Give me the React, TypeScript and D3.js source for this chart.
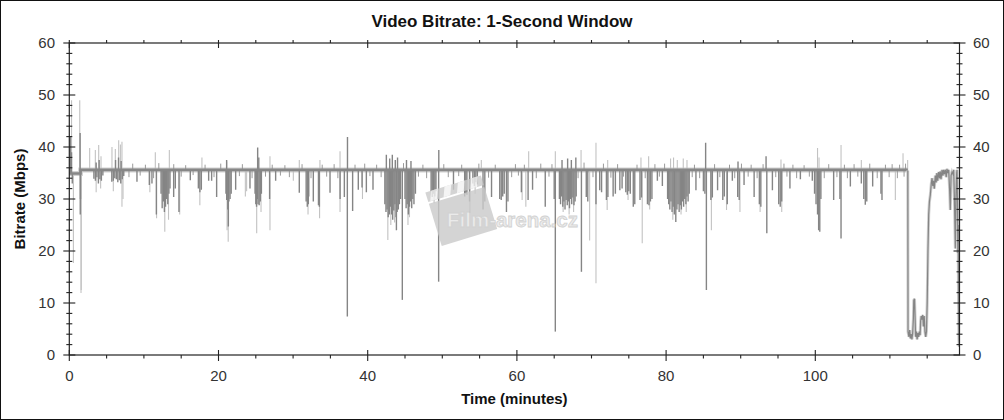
import React, { useEffect, useRef } from 'react';
import * as d3 from 'd3';

const WIDTH = 1004;
const HEIGHT = 420;
const FONT = '"Liberation Sans", Arial, sans-serif';

const xTicks = [0, 20, 40, 60, 80, 100];
const yTicks = [0, 10, 20, 30, 40, 50, 60];
const xMax = 119.33;

// level of the trace that the spikes hang off (minutes, Mbps)
const levelTime = [0, 1.5, 1.52, 112.4];
const levelValue = [34.9, 34.9, 35.6, 35.6];

// [minute, Mbps] — dense dark spikes
const darkSpikes: [number, number][] = [
  [0.15, 42], [0.3, 39], [0.4, 33], [1.45, 42.7], [1.47, 27], [1.5, 30],
  [3.3, 33.9], [3.5, 33.5], [3.6, 37], [3.7, 34.2], [3.9, 33.0], [4.0, 37.5], [4.1, 33.8], [4.3, 33.5], [4.5, 34.5],
  [5.7, 33.3], [5.9, 33.5], [6.1, 34], [6.2, 37.5], [6.3, 33.8], [6.5, 33.2], [6.6, 38], [6.7, 33.6], [6.9, 33.0], [6.95, 37.3], [7.1, 33.8], [7.3, 34.4],
  [9.07, 33.3], [10.73, 32.7], [11.08, 33], [11.67, 27],
  [12.3, 31], [12.45, 28.2], [12.6, 29.5], [12.75, 27.5], [12.9, 28.5], [13.05, 30], [13.2, 29], [13.35, 31], [13.5, 32],
  [13.99, 30.4], [14.21, 32], [14.7, 27.5], [16.22, 33.6],
  [17.3, 32], [17.5, 31.3], [17.7, 31.8], [18.68, 33.5],
  [19.08, 33.5], [19.75, 30.4],
  [21.0, 31], [21.09, 37.5], [21.1, 29.8], [21.25, 28], [21.32, 24.7], [21.4, 29.5], [21.55, 30], [21.7, 31],
  [22.3, 31.8], [24.22, 32],
  [24.9, 31], [25.0, 29], [25.1, 28.5], [25.2, 30], [25.25, 39.9], [25.3, 29], [25.4, 38], [25.45, 28.8], [25.6, 29.5], [25.75, 31],
  [26.85, 30], [27.66, 33.5], [30.83, 31.2],
  [31.75, 29.5], [31.9, 28.5], [32.04, 29], [32.1, 30.5], [32.71, 29.5],
  [33.4, 28.8], [33.52, 28.5], [34.95, 31.2], [36.3, 30], [36.87, 30.4],
  [37.27, 7.4], [37.29, 41.9], [37.98, 27.7], [38.74, 31.8],
  [39.24, 32.2], [39.82, 31.3], [40.71, 31.8],
  [42.3, 29], [42.45, 27.5], [42.5, 38.5], [42.6, 28], [42.75, 26.5], [42.9, 27], [42.95, 37.8], [43.05, 28.5], [43.2, 27], [43.3, 38.5],
  [43.35, 26], [43.5, 27.8], [43.65, 29], [43.7, 37.5], [43.8, 26.5], [43.85, 24], [43.95, 27.5], [44.0, 38], [44.1, 28], [44.25, 29], [44.4, 30],
  [44.64, 10.6],
  [45.0, 30], [45.15, 28.2], [45.2, 37.5], [45.3, 29], [45.45, 27], [45.6, 28.5], [45.75, 29.5], [45.8, 37.3], [45.9, 28.2], [46.05, 30], [46.2, 29], [46.4, 31],
  [48.5, 31.5], [48.65, 30.4], [48.8, 31], [49.0, 30.5], [49.15, 31.5],
  [49.51, 14.1], [49.53, 39.4],
  [51.5, 31.8], [53.0, 30.5], [53.15, 31], [53.3, 30.8], [53.65, 29.5],
  [54.1, 33], [54.3, 32.5], [54.5, 33.2], [54.7, 32.8],
  [55.46, 28], [55.7, 29.5], [56.6, 30.4],
  [57.7, 30], [57.9, 29.8], [58.1, 30.5], [58.3, 31],
  [58.6, 27.5], [58.8, 29.5], [60.6, 31.3], [61.5, 29.8], [62.1, 31.8], [63.8, 28.5],
  [65.0, 30], [65.15, 4.5],
  [65.7, 30], [65.85, 29], [66.0, 30.5], [66.05, 37.5], [66.15, 28.5], [66.3, 29.5], [66.45, 28], [66.6, 29.8], [66.75, 28.8], [66.8, 37.8],
  [66.9, 29.5], [67.05, 28.2], [67.2, 30], [67.3, 37.5], [67.35, 29], [67.5, 30.3], [67.65, 28.8], [67.8, 29.5], [67.9, 38], [67.95, 30.5],
  [68.65, 16], [69.3, 30.4], [69.5, 29.5], [70.6, 29],
  [71.1, 31.7], [71.35, 31.3], [72.0, 29.8], [72.2, 30.4], [72.9, 30.5], [73.2, 31], [73.8, 31.7], [74.1, 32],
  [74.6, 31.3], [74.8, 30.8], [75.0, 31.5], [75.2, 31], [75.6, 28.5], [75.8, 29],
  [76.5, 29.8], [76.7, 30.3], [77.5, 29], [77.7, 28.8], [77.9, 29.5], [78.1, 30],
  [78.83, 33.5], [79.5, 32.5],
  [80.2, 30], [80.35, 29], [80.5, 28], [80.65, 29.5], [80.8, 27.5], [80.95, 28.5], [81.1, 27], [81.3, 25.6], [81.45, 28], [81.6, 29],
  [81.75, 27.5], [81.9, 28.8], [82.05, 28], [82.2, 29.5], [82.35, 28.5], [82.5, 30], [82.65, 29], [82.8, 30.5], [82.95, 29.5], [83.1, 31],
  [84.0, 31.7], [85.0, 31.5], [85.2, 31], [85.3, 40.8], [85.4, 12.5],
  [86.0, 29.8], [86.2, 30.3], [86.9, 31.7], [87.6, 29.8], [87.8, 30.5], [88.2, 29], [88.88, 33.5],
  [89.6, 30.4], [89.64, 37.2], [89.8, 29.8], [90.45, 32.7], [91.8, 30.4],
  [92.5, 29], [92.7, 28.5], [93.4, 38.2], [93.5, 23.4], [94.25, 31.7],
  [95.1, 29], [95.3, 28.5], [95.5, 29.5], [96.6, 32], [98.0, 33.8],
  [99.6, 33.5], [99.9, 31], [100.1, 29], [100.3, 27], [100.45, 24], [100.6, 23.7], [100.75, 30],
  [102.46, 29.8], [103.3, 30], [103.45, 22.4], [104.7, 32.4], [106.17, 33],
  [106.5, 30], [106.7, 28.9], [106.9, 29.5], [107.69, 32.4], [108.8, 31], [108.94, 29.8],
];

// [minute, Mbps] — faint single-second spikes
const lightSpikes: [number, number][] = [
  [0.3, 49], [0.55, 17.7], [1.4, 49], [1.57, 11.9], [1.6, 12.5],
  [2.73, 39.8], [3.49, 39.4], [3.94, 40.4], [4.25, 38.2], [3.6, 31.3], [4.2, 32],
  [5.72, 40.0], [5.9, 31.5], [6.17, 39.6], [6.62, 41.3], [6.85, 40.5], [7.06, 41.0], [7.06, 28.5], [7.2, 30],
  [10.8, 31.3], [11.53, 39.0], [11.7, 26.3], [12.8, 23.7], [13.3, 26], [13.41, 39.4], [14.8, 27], [17.5, 28.8], [17.78, 38],
  [21.15, 24], [21.3, 21.8], [21.1, 37.2], [23.6, 30.5], [23.77, 31.5], [25.12, 23.4], [25.7, 27.5], [26.9, 24], [26.9, 38.2],
  [30.03, 33.5], [30.83, 37.5], [32.0, 27], [33.55, 26.3], [33.6, 37.5], [36.29, 27.5], [36.29, 39.2],
  [39.3, 30], [42.7, 22.1], [43.1, 25], [43.6, 25.5], [45.4, 25], [45.6, 26.5], [48.9, 29.2], [53.7, 27.3], [54.4, 31], [55.23, 37.5],
  [60.7, 29.8], [61.2, 28.5], [61.58, 39.2], [65.15, 39.2], [66.2, 27.5], [67.0, 27], [67.6, 27.5], [68.6, 39.4], [69.75, 22],
  [70.6, 13.8], [70.6, 40.8], [72.1, 27.9], [72.17, 37.5], [74.9, 29.8], [76.8, 21.5], [76.63, 38], [77.8, 28], [77.66, 38.2],
  [80.6, 37.8], [80.9, 26], [81.0, 38], [81.5, 37.5], [82.0, 27], [82.3, 37.8], [82.7, 27.5], [82.8, 37.5],
  [86.07, 24], [88.1, 27.9], [89.9, 27.5], [92.6, 27.5], [95.4, 37.6], [95.5, 27.5],
  [100.3, 39.8], [100.5, 38], [100.5, 27], [103.45, 40.4], [106.17, 37.5], [110.73, 29.8], [111.76, 38.8], [112.38, 37.5],
];

// [minute, Mbps] — small wiggles along the trace
const minorSpikes: [number, number][] = [
  [8.0, 34.2], [8.5, 36.8], [9.5, 34.5], [10.2, 36.6], [11.3, 34], [12.0, 36.9], [14.0, 36.7], [15.0, 34.3], [15.6, 36.5],
  [16.6, 34.6], [18.2, 36.6], [19.4, 34.2], [20.3, 36.8], [22.8, 34.4], [23.2, 36.7], [24.5, 34], [26.3, 34.3], [27.2, 36.6],
  [28.3, 34.5], [28.9, 36.5], [29.5, 34.2], [31.2, 36.7], [32.4, 34], [33.9, 36.6], [34.5, 34.3], [35.5, 36.7], [36.0, 34],
  [38.3, 36.6], [39.6, 36.8], [40.3, 34.4], [41.2, 36.6], [41.8, 34.2], [44.8, 36.9], [46.8, 34.3], [47.4, 36.6], [47.9, 34],
  [50.2, 36.7], [50.8, 34.2], [52.2, 34.4], [52.6, 36.6], [54.9, 36.8], [56.2, 34.1], [57.1, 36.6], [59.3, 34.2], [59.8, 36.7],
  [60.2, 34.5], [61.0, 36.6], [62.6, 34.0], [63.2, 36.8], [64.3, 34.3], [64.7, 36.7], [68.2, 34], [69.0, 37], [70.2, 34.2],
  [71.6, 36.8], [72.6, 34.1], [73.5, 36.7], [74.3, 34.3], [76.1, 36.6], [77.2, 34], [78.5, 36.7], [79.1, 34.3], [79.8, 36.8],
  [83.5, 34.2], [83.8, 36.6], [84.5, 34], [86.5, 36.7], [87.2, 34.2], [88.5, 36.6], [89.2, 34], [90.1, 36.8], [91.0, 34.3],
  [91.4, 36.6], [92.2, 34], [93.0, 36.7], [94.7, 34.2], [95.8, 36.8], [96.2, 34.3], [97.0, 36.6], [97.5, 34], [98.5, 36.5],
  [99.2, 34.3], [101.2, 34], [101.8, 36.7], [102.9, 34.2], [103.9, 36.6], [104.3, 34], [105.2, 36.7], [105.7, 34.3],
  [107.3, 36.8], [108.3, 34], [109.4, 36.6], [109.9, 34.2], [110.3, 36.7], [111.0, 34], [111.3, 36.6], [111.9, 34.3], [112.1, 36.8],
];

// end credits section, drawn as a plain line
const tailTime = [
  112.4, 112.43, 112.55, 112.65, 112.75, 112.85, 112.95, 113.05, 113.15, 113.2, 113.3, 113.38, 113.45, 113.55, 113.65,
  113.75, 113.85, 113.95, 114.05, 114.12, 114.2, 114.3, 114.4, 114.5, 114.6, 114.7, 114.8, 114.9, 115.0, 115.1,
  115.2, 115.3, 115.42, 115.55, 115.65, 115.75, 115.85, 115.95, 116.09, 116.2, 116.3, 116.4, 116.54, 116.65, 116.75,
  116.85, 116.99, 117.1, 117.2, 117.3, 117.43, 117.55, 117.65, 117.75, 117.88, 118.0, 118.1, 118.2, 118.33, 118.45,
  118.55, 118.65, 118.77, 118.85, 118.95, 119.0, 119.05, 119.1, 119.15, 119.2, 119.25, 119.3, 119.33,
];
const tailValue = [
  35.5, 4.5, 3.5, 4.8, 3.2, 4.0, 3.0, 4.2, 7, 10.5, 10.8, 7, 3.5, 4.5, 3.0,
  4.2, 3.5, 4.5, 3.8, 6.5, 7.5, 6.8, 7.7, 5.5, 7.5, 4.5, 3.5, 4.5, 10, 20,
  27, 29.5, 30.8, 33, 34, 32.5, 33.5, 32, 34.5, 33.2, 35, 33.5, 35.2, 34, 35.3,
  33.8, 35.6, 34.5, 35.6, 34.8, 35.6, 34.2, 35.8, 35.0, 35.6, 32, 27.9, 34.5, 35.2, 34.8,
  35.6, 30, 20.5, 30, 35, 35.6, 30, 19.6, 25, 9.3, 3, 1.6, 8,
];

export default function App() {
  const svgRef = useRef<SVGSVGElement>(null);

  useEffect(() => {
    if (!svgRef.current) return;
    const svg = d3.select(svgRef.current);
    svg.selectAll('*').remove();

    const x = d3.scaleLinear().domain([0, xMax]).range([69.3, 959.5]);
    const y = d3.scaleLinear().domain([0, 60]).range([355, 43]);
    const levelAt = d3.scaleLinear().domain(levelTime).range(levelValue).clamp(true);
    const [x0, x1] = x.range();
    const [yb, yt] = y.range();

    svg.append('rect').attr('width', WIDTH).attr('height', HEIGHT).attr('fill', '#fff');

    svg.append('clipPath').attr('id', 'plot-clip')
      .append('rect').attr('x', x0).attr('y', yt).attr('width', x1 - x0).attr('height', yb - yt);

    const plot = svg.append('g').attr('clip-path', 'url(#plot-clip)');

    // trace halo
    const levelLine = d3.line<number>().x((t) => x(t)).y((_, i) => y(levelValue[i]));
    plot.append('path').datum(levelTime).attr('d', levelLine)
      .attr('fill', 'none').attr('stroke', '#d2d2d2').attr('stroke-width', 5);

    const spikes = (data: [number, number][], color: string, w: number) =>
      plot.append('g').selectAll('line').data(data).enter().append('line')
        .attr('x1', (d) => x(d[0])).attr('x2', (d) => x(d[0]))
        .attr('y1', (d) => y(levelAt(d[0]))).attr('y2', (d) => y(d[1]))
        .attr('stroke', color).attr('stroke-width', w);

    spikes(lightSpikes, '#c2c2c2', 1.1);
    spikes(minorSpikes, '#9a9a9a', 1);
    spikes(darkSpikes, '#858585', 1.4);

    plot.append('path').datum(levelTime).attr('d', levelLine)
      .attr('fill', 'none').attr('stroke', '#878787').attr('stroke-width', 2.6);

    const tailLine = d3.line<number>().x((t) => x(t)).y((_, i) => y(tailValue[i]));
    plot.append('path').datum(tailTime).attr('d', tailLine)
      .attr('fill', 'none').attr('stroke', '#d0d0d0').attr('stroke-width', 3);
    plot.append('path').datum(tailTime).attr('d', tailLine)
      .attr('fill', 'none').attr('stroke', '#858585').attr('stroke-width', 1.2);

    // watermark
    const wm = svg.append('g').attr('opacity', 0.8);
    const clap = wm.append('g').attr('transform', 'translate(428,201) rotate(-17)');
    clap.append('rect').attr('x', 0).attr('y', 3).attr('width', 58).attr('height', 44).attr('fill', '#cacaca');
    clap.append('rect').attr('x', 0).attr('y', -9).attr('width', 58).attr('height', 10).attr('fill', '#cacaca');
    for (let i = 0; i < 4; i++) {
      clap.append('polygon')
        .attr('points', `${6 + i * 14},-9 ${13 + i * 14},-9 ${9 + i * 14},1 ${2 + i * 14},1`)
        .attr('fill', '#f2f2f2');
    }
    wm.append('text').attr('x', 447).attr('y', 227).text('Film-arena.cz')
      .attr('font-family', FONT).attr('font-size', 20.5).attr('font-weight', 'bold')
      .attr('fill', '#e6e6e6').attr('stroke', '#c6c6c6').attr('stroke-width', 0.8);

    // frame
    svg.append('rect').attr('x', x0).attr('y', yt).attr('width', x1 - x0).attr('height', yb - yt)
      .attr('fill', 'none').attr('stroke', '#222').attr('stroke-width', 1.2);

    const axes = svg.append('g').attr('stroke', '#222').attr('stroke-width', 1.1);
    const yMinor = d3.range(0, 61, 2).filter((v) => v % 10 !== 0);
    const xMinor = d3.range(0, xMax, 5).filter((v) => v % 20 !== 0);

    [x0, x1].forEach((ax) => {
      yTicks.forEach((v) => axes.append('line').attr('x1', ax - 6).attr('x2', ax + 6).attr('y1', y(v)).attr('y2', y(v)));
      yMinor.forEach((v) => axes.append('line').attr('x1', ax - 3).attr('x2', ax + 3).attr('y1', y(v)).attr('y2', y(v)));
    });
    xTicks.forEach((v) => {
      axes.append('line').attr('x1', x(v)).attr('x2', x(v)).attr('y1', yb - 5).attr('y2', yb + 6);
      axes.append('line').attr('x1', x(v)).attr('x2', x(v)).attr('y1', yt - 3).attr('y2', yt + 5);
    });
    xMinor.forEach((v) => {
      axes.append('line').attr('x1', x(v)).attr('x2', x(v)).attr('y1', yb).attr('y2', yb + 3.5);
      axes.append('line').attr('x1', x(v)).attr('x2', x(v)).attr('y1', yt - 3).attr('y2', yt);
    });

    const labels = svg.append('g').attr('font-family', FONT).attr('font-size', 15).attr('fill', '#333');
    yTicks.forEach((v) => {
      labels.append('text').attr('x', 55).attr('y', y(v) + 5).attr('text-anchor', 'end').text(v);
      labels.append('text').attr('x', 973).attr('y', y(v) + 5).attr('text-anchor', 'start').text(v);
    });
    xTicks.forEach((v) => {
      labels.append('text').attr('x', x(v)).attr('y', 380.5).attr('text-anchor', 'middle').text(v);
    });

    svg.append('text').attr('x', 502).attr('y', 26.5).attr('text-anchor', 'middle')
      .attr('font-family', FONT).attr('font-size', 17).attr('font-weight', 'bold').attr('fill', '#111')
      .text('Video Bitrate: 1-Second Window');
    svg.append('text').attr('x', (x0 + x1) / 2).attr('y', 404).attr('text-anchor', 'middle')
      .attr('font-family', FONT).attr('font-size', 15).attr('font-weight', 'bold').attr('fill', '#111')
      .text('Time (minutes)');
    svg.append('text').attr('transform', `translate(25,${(yb + yt) / 2}) rotate(-90)`).attr('text-anchor', 'middle')
      .attr('font-family', FONT).attr('font-size', 15).attr('font-weight', 'bold').attr('fill', '#111')
      .text('Bitrate (Mbps)');

    // outer border
    svg.append('rect').attr('x', 0.5).attr('y', 0.5).attr('width', WIDTH - 1).attr('height', HEIGHT - 1)
      .attr('fill', 'none').attr('stroke', '#111').attr('stroke-width', 1);
  }, []);

  return (
    <svg ref={svgRef} width={WIDTH} height={HEIGHT}
      style={{ position: 'absolute', left: 0, top: 0, display: 'block' }} />
  );
}
